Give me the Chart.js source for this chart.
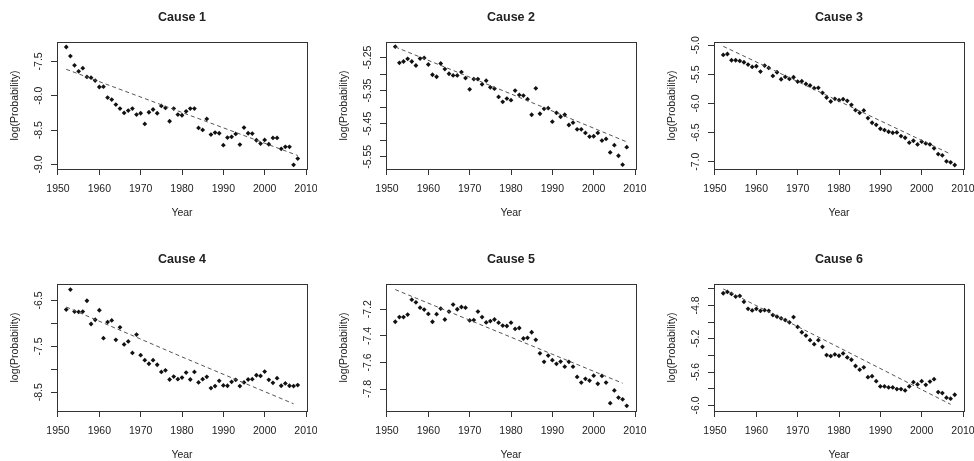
<!DOCTYPE html>
<html>
<head>
<meta charset="utf-8">
<script src="https://cdn.jsdelivr.net/npm/chart.js@4.4.0/dist/chart.umd.min.js"></script>
<style>
  body { margin: 0; background: #fff; }
  #wrap { position: relative; width: 974px; height: 461px; background: #fff; }
  #wrap canvas { position: absolute; }
</style>
</head>
<body>
<div id="wrap">
  <canvas id="c1" width="317" height="219" style="left:0;top:0"></canvas>
  <canvas id="c2" width="317" height="219" style="left:329px;top:0"></canvas>
  <canvas id="c3" width="317" height="219" style="left:657px;top:0"></canvas>
  <canvas id="c4" width="317" height="219" style="left:0;top:242px"></canvas>
  <canvas id="c5" width="317" height="219" style="left:329px;top:242px"></canvas>
  <canvas id="c6" width="317" height="219" style="left:657px;top:242px"></canvas>
</div>
<script>
const years = [
  1952, 1953, 1954, 1955, 1956, 1957, 1958, 1959, 1960, 1961,
  1962, 1963, 1964, 1965, 1966, 1967, 1968, 1969, 1970, 1971,
  1972, 1973, 1974, 1975, 1976, 1977, 1978, 1979, 1980, 1981,
  1982, 1983, 1984, 1985, 1986, 1987, 1988, 1989, 1990, 1991,
  1992, 1993, 1994, 1995, 1996, 1997, 1998, 1999, 2000, 2001,
  2002, 2003, 2004, 2005, 2006, 2007, 2008
];

const cause1 = [
  -7.292, -7.423, -7.558, -7.645, -7.600, -7.727, -7.737, -7.780, -7.873, -7.868,
  -8.027, -8.056, -8.129, -8.187, -8.250, -8.216, -8.187, -8.274, -8.255, -8.410,
  -8.240, -8.200, -8.255, -8.148, -8.177, -8.371, -8.187, -8.274, -8.284, -8.226,
  -8.187, -8.187, -8.468, -8.497, -8.337, -8.564, -8.535, -8.545, -8.719, -8.608,
  -8.598, -8.555, -8.710, -8.463, -8.545, -8.550, -8.647, -8.695, -8.642, -8.705,
  -8.613, -8.613, -8.772, -8.743, -8.743, -9.005, -8.913
];
const cause2 = [
  -5.217, -5.266, -5.262, -5.254, -5.262, -5.274, -5.253, -5.251, -5.271, -5.302,
  -5.308, -5.268, -5.285, -5.299, -5.304, -5.304, -5.294, -5.312, -5.346, -5.315,
  -5.315, -5.331, -5.320, -5.340, -5.344, -5.369, -5.384, -5.374, -5.379, -5.350,
  -5.363, -5.365, -5.376, -5.423, -5.343, -5.420, -5.405, -5.403, -5.444, -5.417,
  -5.429, -5.423, -5.454, -5.447, -5.467, -5.467, -5.478, -5.489, -5.488, -5.478,
  -5.501, -5.496, -5.537, -5.515, -5.547, -5.574, -5.521
];
const cause3 = [
  -5.166, -5.149, -5.257, -5.257, -5.269, -5.291, -5.331, -5.371, -5.360, -5.451,
  -5.349, -5.389, -5.526, -5.463, -5.583, -5.543, -5.577, -5.549, -5.623, -5.617,
  -5.663, -5.691, -5.737, -5.731, -5.817, -5.897, -5.966, -5.920, -5.943, -5.926,
  -5.954, -6.023, -6.114, -6.160, -6.120, -6.251, -6.331, -6.366, -6.434, -6.457,
  -6.486, -6.503, -6.497, -6.560, -6.589, -6.674, -6.640, -6.703, -6.657, -6.686,
  -6.703, -6.771, -6.869, -6.891, -6.994, -7.011, -7.057
];
const cause4 = [
  -6.700, -6.264, -6.743, -6.750, -6.743, -6.507, -7.014, -6.921, -6.714, -7.321,
  -6.971, -6.936, -7.357, -7.086, -7.457, -7.393, -7.643, -7.243, -7.693, -7.800,
  -7.879, -7.800, -7.900, -8.057, -8.021, -8.221, -8.157, -8.214, -8.179, -8.071,
  -8.221, -8.057, -8.286, -8.214, -8.164, -8.407, -8.364, -8.250, -8.350, -8.357,
  -8.271, -8.229, -8.364, -8.286, -8.221, -8.214, -8.129, -8.143, -8.050, -8.229,
  -8.293, -8.193, -8.357, -8.307, -8.357, -8.364, -8.343
];
const cause5 = [
  -7.294, -7.259, -7.259, -7.240, -7.128, -7.148, -7.188, -7.202, -7.235, -7.294,
  -7.237, -7.195, -7.277, -7.217, -7.165, -7.200, -7.183, -7.188, -7.284, -7.281,
  -7.217, -7.259, -7.299, -7.289, -7.277, -7.301, -7.323, -7.326, -7.301, -7.348,
  -7.341, -7.420, -7.415, -7.373, -7.430, -7.531, -7.595, -7.548, -7.583, -7.610,
  -7.593, -7.632, -7.595, -7.632, -7.709, -7.751, -7.723, -7.736, -7.699, -7.760,
  -7.701, -7.751, -7.906, -7.810, -7.864, -7.877, -7.926
];
const cause6 = [
  -4.653, -4.637, -4.661, -4.693, -4.685, -4.756, -4.840, -4.860, -4.840, -4.864,
  -4.856, -4.864, -4.915, -4.935, -4.955, -4.975, -5.003, -4.939, -5.058, -5.122,
  -5.162, -5.217, -5.265, -5.217, -5.297, -5.396, -5.408, -5.388, -5.404, -5.376,
  -5.424, -5.452, -5.527, -5.571, -5.543, -5.662, -5.650, -5.710, -5.773, -5.773,
  -5.785, -5.785, -5.805, -5.805, -5.821, -5.773, -5.722, -5.749, -5.710, -5.753,
  -5.714, -5.686, -5.841, -5.853, -5.908, -5.920, -5.873
];

// dashed trend lines, read at a few years
const trendYears1 = [1952, 1980, 2008];
const trend1 = [-7.616, -8.243, -8.869];
const trendYears2 = [1952, 1980, 2008];
const trend2 = [-5.218, -5.360, -5.505];
const trendYears3 = [1952, 1980, 2007];
const trend3 = [-5.017, -5.960, -6.869];
const trendYears4 = [1952, 1980, 2007];
const trend4 = [-6.643, -7.730, -8.750];
const trendYears5 = [1952, 1980, 2007];
const trend5 = [-7.052, -7.410, -7.756];
const trendYears6 = [1952, 1980, 2007];
const trend6 = [-4.601, -5.305, -5.988];

const xTicks = [1950, 1960, 1970, 1980, 1990, 2000, 2010];

const yTicks1 = [-9.0, -8.5, -8.0, -7.5];
const yLabels1 = ['-9.0', '-8.5', '-8.0', '-7.5'];
const yTicks2 = [-5.55, -5.50, -5.45, -5.40, -5.35, -5.30, -5.25];
const yLabels2 = ['-5.55', '', '-5.45', '', '-5.35', '', '-5.25'];
const yTicks3 = [-7.0, -6.5, -6.0, -5.5, -5.0];
const yLabels3 = ['-7.0', '-6.5', '-6.0', '-5.5', '-5.0'];
const yTicks4 = [-8.5, -8.0, -7.5, -7.0, -6.5];
const yLabels4 = ['-8.5', '', '-7.5', '', '-6.5'];
const yTicks5 = [-7.8, -7.6, -7.4, -7.2];
const yLabels5 = ['-7.8', '-7.6', '-7.4', '-7.2'];
const yTicks6 = [-6.0, -5.8, -5.6, -5.4, -5.2, -5.0, -4.8, -4.6];
const yLabels6 = ['-6.0', '', '-5.6', '', '-5.2', '', '-4.8', ''];

const FAMILY = "'Liberation Sans', Arial, sans-serif";
const TEXT = '#222';
const AXIS = '#333';
const tickFont = { family: FAMILY, size: 10.5 };

const panels = [
  { id: 'c1', title: 'Cause 1', values: cause1, tYears: trendYears1, trend: trend1, yMin: -9.065, yMax: -7.219, yTicks: yTicks1, yLabels: yLabels1 },
  { id: 'c2', title: 'Cause 2', values: cause2, tYears: trendYears2, trend: trend2, yMin: -5.587, yMax: -5.203, yTicks: yTicks2, yLabels: yLabels2 },
  { id: 'c3', title: 'Cause 3', values: cause3, tYears: trendYears3, trend: trend3, yMin: -7.126, yMax: -4.943, yTicks: yTicks3, yLabels: yLabels3 },
  { id: 'c4', title: 'Cause 4', values: cause4, tYears: trendYears4, trend: trend4, yMin: -8.907, yMax: -6.143, yTicks: yTicks4, yLabels: yLabels4 },
  { id: 'c5', title: 'Cause 5', values: cause5, tYears: trendYears5, trend: trend5, yMin: -7.965, yMax: -7.010, yTicks: yTicks5, yLabels: yLabels5 },
  { id: 'c6', title: 'Cause 6', values: cause6, tYears: trendYears6, trend: trend6, yMin: -6.068, yMax: -4.542, yTicks: yTicks6, yLabels: yLabels6 }
];

// box round the plot region, like R's box()
const boxPlugin = {
  id: 'box',
  afterDraw(chart) {
    const { ctx, chartArea: a } = chart;
    ctx.save();
    ctx.strokeStyle = AXIS;
    ctx.lineWidth = 1;
    ctx.strokeRect(Math.round(a.left) + 0.5, Math.round(a.top) + 0.5,
      Math.round(a.right - a.left), Math.round(a.bottom - a.top));
    ctx.restore();
  }
};

const measure = document.createElement('canvas').getContext('2d');
measure.font = '10.5px ' + FAMILY;

panels.forEach(p => {
  // rotated y labels are centred by chart.js on widest/2, so shift them back
  const widest = Math.max(...p.yLabels.filter(Boolean).map(t => measure.measureText(t).width));
  const yPad = 11.6 - widest / 2;

  new Chart(document.getElementById(p.id), {
    data: {
      datasets: [
        {
          type: 'line',
          data: p.tYears.map((yr, i) => ({ x: yr, y: p.trend[i] })),
          borderColor: '#555',
          borderWidth: 1,
          borderDash: [4, 3],
          pointRadius: 0,
          fill: false,
          tension: 0
        },
        {
          type: 'scatter',
          data: years.map((yr, i) => ({ x: yr, y: p.values[i] })),
          pointStyle: 'rectRot',
          pointRadius: 2.4,
          pointBackgroundColor: '#111',
          pointBorderWidth: 0
        }
      ]
    },
    options: {
      responsive: false,
      animation: false,
      layout: { padding: { left: 0, right: 10, top: 0, bottom: 0 } },
      plugins: {
        legend: { display: false },
        tooltip: { enabled: false },
        title: {
          display: true,
          text: p.title,
          fullSize: false,
          color: TEXT,
          font: { family: FAMILY, size: 12.5, weight: 'bold' },
          padding: { top: 10, bottom: 17 }
        }
      },
      scales: {
        x: {
          type: 'linear',
          min: 1949.76,
          max: 2010.24,
          afterBuildTicks: s => { s.ticks = xTicks.map(v => ({ value: v })); },
          afterFit: s => { s.height = 50; s.paddingLeft = 0; s.paddingRight = 0; },
          border: { display: false },
          grid: { drawOnChartArea: false, tickLength: 6, color: AXIS },
          ticks: { autoSkip: false, maxRotation: 0, padding: 8, color: TEXT, font: tickFont, callback: v => String(v) },
          title: { display: true, text: 'Year', color: TEXT, font: tickFont, padding: { top: 0, bottom: 0 } }
        },
        y: {
          type: 'linear',
          min: p.yMin,
          max: p.yMax,
          afterBuildTicks: s => { s.ticks = p.yTicks.map(v => ({ value: v })); },
          afterFit: s => { s.width = 57; },
          border: { display: false },
          grid: { drawOnChartArea: false, tickLength: 6, color: AXIS },
          ticks: {
            autoSkip: false,
            minRotation: 90,
            maxRotation: 90,
            crossAlign: 'center',
            padding: yPad,
            color: TEXT,
            font: tickFont,
            callback: (v, i) => p.yLabels[i]
          },
          title: { display: true, text: 'log(Probability)', color: TEXT, font: tickFont, padding: { top: 8.7, bottom: 0 } }
        }
      }
    },
    plugins: [boxPlugin]
  });
});
</script>
</body>
</html>
